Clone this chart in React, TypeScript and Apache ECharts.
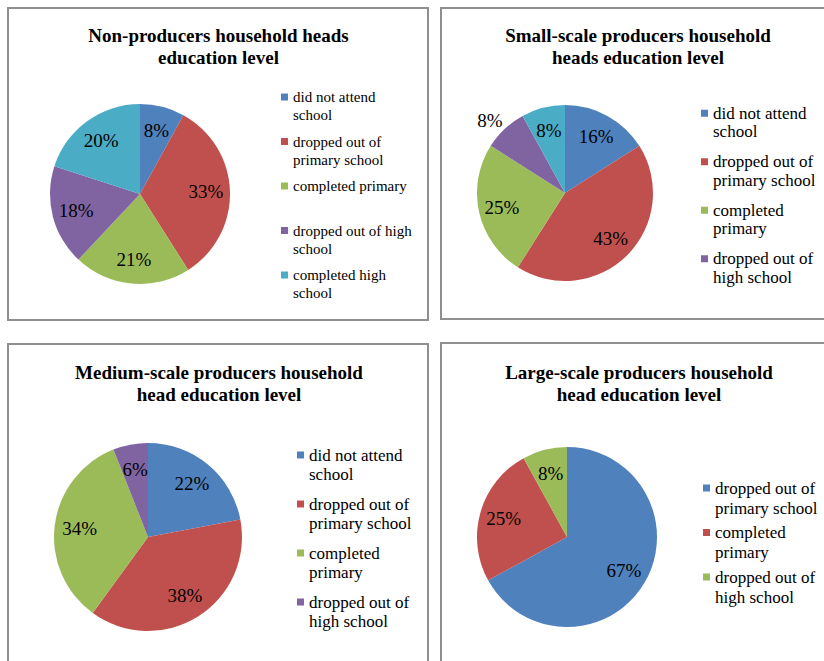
import React, { useEffect, useRef } from "react";
import * as echarts from "echarts";

const FONT = '"Liberation Serif", "Times New Roman", serif';
const PALETTE = ["#4F81BD", "#C0504D", "#9BBB59", "#8064A2", "#4BACC6"];

// Non-producers
const nonCategories = [
  "did not attend school",
  "dropped out of primary school",
  "completed primary",
  "dropped out of high school",
  "completed high school",
];
const nonShares = [8, 33, 21, 18, 20];
const nonLegendText = [
  "did not attend\nschool",
  "dropped out of\nprimary school",
  "completed primary\n ",
  "dropped out of high\nschool",
  "completed high\nschool",
];

// Small-scale producers
const smallCategories = [
  "did not attend school",
  "dropped out of primary school",
  "completed primary",
  "dropped out of high school",
  "completed high school",
];
const smallShares = [16, 43, 25, 8, 8];
const smallLegendText = [
  "did not attend\nschool",
  "dropped out of\nprimary school",
  "completed\nprimary",
  "dropped out of\nhigh school",
];

// Medium-scale producers
const mediumCategories = [
  "did not attend school",
  "dropped out of primary school",
  "completed primary",
  "dropped out of high school",
];
const mediumShares = [22, 38, 34, 6];
const mediumLegendText = [
  "did not attend\nschool",
  "dropped out of\nprimary school",
  "completed\nprimary",
  "dropped out of\nhigh school",
];

// Large-scale producers
const largeCategories = [
  "dropped out of primary school",
  "completed primary",
  "dropped out of high school",
];
const largeShares = [67, 25, 8];
const largeLegendText = [
  "dropped out of\nprimary school",
  "completed\nprimary",
  "dropped out of\nhigh school",
];

const panelTitles = [
  "Non-producers household heads\neducation level",
  "Small-scale producers household\nheads education level",
  "Medium-scale producers household\nhead education level",
  "Large-scale producers household\nhead education level",
];

type Panel = {
  title: string;
  categories: string[];
  shares: number[];
  legendText: string[];
  frame: [number, number, number, number];
  titleX: number;
  titleY: number;
  center: [number, number];
  r: number;
  legendX: number;
  legendY: number;
  legendFont: number;
  legendLine: number;
  legendGap: number;
  outsideIndex?: number;
};

const panels: Panel[] = [
  {
    title: panelTitles[0],
    categories: nonCategories,
    shares: nonShares,
    legendText: nonLegendText,
    frame: [8, 8, 420, 312],
    titleX: 218.5,
    titleY: 24,
    center: [140, 194],
    r: 90,
    legendX: 281,
    legendY: 88,
    legendFont: 15,
    legendLine: 18,
    legendGap: 8.5,
  },
  {
    title: panelTitles[1],
    categories: smallCategories,
    shares: smallShares,
    legendText: smallLegendText,
    frame: [441, 8, 420, 311],
    titleX: 638,
    titleY: 24,
    center: [565, 193],
    r: 88,
    legendX: 701,
    legendY: 104,
    legendFont: 17,
    legendLine: 18.5,
    legendGap: 11.5,
    outsideIndex: 3,
  },
  {
    title: panelTitles[2],
    categories: mediumCategories,
    shares: mediumShares,
    legendText: mediumLegendText,
    frame: [8, 344, 420, 400],
    titleX: 219,
    titleY: 361,
    center: [148, 537],
    r: 94,
    legendX: 297,
    legendY: 445.5,
    legendFont: 17,
    legendLine: 19,
    legendGap: 11,
  },
  {
    title: panelTitles[3],
    categories: largeCategories,
    shares: largeShares,
    legendText: largeLegendText,
    frame: [441, 343, 420, 400],
    titleX: 639,
    titleY: 361,
    center: [567, 537],
    r: 90,
    legendX: 703,
    legendY: 478,
    legendFont: 17,
    legendLine: 20,
    legendGap: 4.5,
  },
];

// Square marker sitting beside the first line of a two-line legend entry.
function legendIcon(lineHeight: number): string {
  const h = lineHeight * 2;
  const a = lineHeight / 2 - 3.5;
  const b = a + 7;
  return `path://M0,0L7,0L7,0ZM0,${a}L7,${a}L7,${b}L0,${b}ZM0,${h}L7,${h}L7,${h}Z`;
}

function buildOption() {
  const title: any[] = [];
  const legend: any[] = [];
  const series: any[] = [];
  const graphic: any[] = [];

  panels.forEach((p) => {
    graphic.push({
      type: "rect",
      shape: { x: p.frame[0], y: p.frame[1], width: p.frame[2], height: p.frame[3] },
      style: { fill: "none", stroke: "#8f8f8f", lineWidth: 2 },
      silent: true,
    });

    title.push({
      text: p.title,
      left: p.titleX,
      top: p.titleY,
      textAlign: "center",
      padding: 0,
      textStyle: {
        fontFamily: FONT,
        fontSize: 19,
        fontWeight: "bold",
        lineHeight: 22,
        color: "#000",
      },
    });

    const labelMap: Record<string, string> = {};
    p.legendText.forEach((t, i) => {
      labelMap[p.categories[i]] = t;
    });

    legend.push({
      orient: "vertical",
      left: p.legendX,
      top: p.legendY,
      padding: 0,
      itemGap: p.legendGap,
      itemWidth: 7,
      itemHeight: p.legendLine * 2,
      icon: legendIcon(p.legendLine),
      selectedMode: false,
      formatter: (name: string) => labelMap[name] ?? name,
      textStyle: {
        fontFamily: FONT,
        fontSize: p.legendFont,
        lineHeight: p.legendLine,
        color: "#000",
      },
      data: p.legendText.map((_, i) => ({
        name: p.categories[i],
        itemStyle: { color: PALETTE[i], borderWidth: 0 },
      })),
    });

    const sliceData = p.categories.map((name, i) => ({
      name,
      value: p.shares[i],
      itemStyle: { color: PALETTE[i] },
    }));

    // filled slices
    series.push({
      type: "pie",
      center: p.center,
      radius: [0, p.r],
      startAngle: 90,
      clockwise: true,
      silent: true,
      label: { show: false },
      labelLine: { show: false },
      emphasis: { disabled: true },
      itemStyle: { borderWidth: 0 },
      data: sliceData,
    });

    // percentage labels placed ~0.7 of the radius out
    series.push({
      type: "pie",
      center: p.center,
      radius: [p.r * 0.4, p.r],
      startAngle: 90,
      clockwise: true,
      silent: true,
      avoidLabelOverlap: false,
      emphasis: { disabled: true },
      itemStyle: { color: "rgba(0,0,0,0)", borderWidth: 0 },
      label: {
        show: true,
        position: "inside",
        formatter: "{c}%",
        fontFamily: FONT,
        fontSize: 19,
        color: "#000",
      },
      labelLine: { show: false },
      data: p.categories.map((name, i) => {
        const item: any = {
          name,
          value: p.shares[i],
          itemStyle: { color: "rgba(0,0,0,0)" },
        };
        if (p.outsideIndex === i) {
          item.label = { position: "outside", distanceToLabelLine: -6 };
          item.labelLine = { show: false, length: 12, length2: 0 };
        }
        return item;
      }),
    });
  });

  return {
    animation: false,
    backgroundColor: "#ffffff",
    title,
    legend,
    series,
    graphic,
  };
}

export default function App() {
  const ref = useRef<HTMLDivElement>(null);

  useEffect(() => {
    if (!ref.current) return;
    const chart = echarts.init(ref.current, undefined, { renderer: "svg" });
    chart.setOption(buildOption() as any);
    return () => chart.dispose();
  }, []);

  return (
    <div
      ref={ref}
      style={{ position: "absolute", left: 0, top: 0, width: 824, height: 661 }}
    />
  );
}
